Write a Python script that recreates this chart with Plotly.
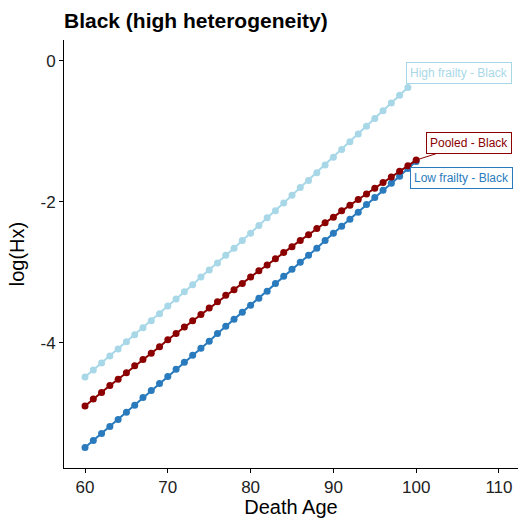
import plotly.graph_objects as go

# Death ages for each frailty group
ages_high = list(range(60, 100))
ages_pooled = list(range(60, 101))
ages_low = list(range(60, 101))

# log cumulative hazard, log(Hx)
log_hx_high = [
    -4.49, -4.39, -4.29, -4.19, -4.09, -3.99, -3.89, -3.79, -3.69, -3.59,
    -3.48, -3.38, -3.28, -3.18, -3.07, -2.97, -2.87, -2.76, -2.66, -2.55,
    -2.45, -2.34, -2.23, -2.13, -2.02, -1.91, -1.80, -1.70, -1.59, -1.48,
    -1.37, -1.26, -1.15, -1.04, -0.93, -0.82, -0.71, -0.60, -0.49, -0.38,
]
log_hx_pooled = [
    -4.90, -4.80, -4.71, -4.61, -4.52, -4.43, -4.33, -4.24, -4.15, -4.06,
    -3.96, -3.87, -3.78, -3.69, -3.60, -3.51, -3.42, -3.33, -3.25, -3.16,
    -3.07, -2.98, -2.90, -2.81, -2.72, -2.64, -2.55, -2.47, -2.38, -2.30,
    -2.22, -2.13, -2.05, -1.97, -1.89, -1.81, -1.73, -1.65, -1.57, -1.49,
    -1.41,
]
log_hx_low = [
    -5.49, -5.39, -5.29, -5.19, -5.09, -4.99, -4.89, -4.78, -4.68, -4.58,
    -4.48, -4.38, -4.28, -4.18, -4.08, -3.98, -3.87, -3.77, -3.67, -3.57,
    -3.47, -3.37, -3.27, -3.16, -3.06, -2.96, -2.86, -2.76, -2.66, -2.55,
    -2.45, -2.35, -2.25, -2.15, -2.04, -1.94, -1.84, -1.74, -1.64, -1.53,
    -1.43,
]

x_ticks = [60, 70, 80, 90, 100, 110]
y_ticks = [0, -2, -4]
y_tick_labels = ["0", "-2", "-4"]

COL_HIGH = "#a8d8e8"
COL_POOLED = "#8b0000"
COL_LOW = "#2a7bbd"

FONT = "Liberation Sans, Arial, Helvetica, sans-serif"

fig = go.Figure()

series = [
    ("Low frailty - Black", ages_low, log_hx_low, COL_LOW),
    ("High frailty - Black", ages_high, log_hx_high, COL_HIGH),
    ("Pooled - Black", ages_pooled, log_hx_pooled, COL_POOLED),
]
for name, xs, ys, col in series:
    fig.add_trace(go.Scatter(
        x=xs, y=ys, mode="lines+markers", name=name,
        line=dict(color=col, width=2),
        marker=dict(color=col, size=7),
        showlegend=False,
    ))


def label_font(col):
    return dict(family=FONT, size=12, color=col)


# End-of-line labels
common = dict(bgcolor="white", borderwidth=1, borderpad=3, xref="x", yref="y")
fig.add_annotation(
    x=ages_high[-1], y=log_hx_high[-1], text="High frailty - Black",
    showarrow=False, xanchor="center", yanchor="middle", xshift=51, yshift=14,
    bordercolor=COL_HIGH, font=label_font(COL_HIGH), **common,
)
fig.add_annotation(
    x=ages_pooled[-1], y=log_hx_pooled[-1], text="Pooled - Black",
    showarrow=True, arrowhead=0, arrowwidth=1, arrowcolor=COL_POOLED, ax=53, ay=-17,
    bordercolor=COL_POOLED, font=label_font(COL_POOLED), **common,
)
fig.add_annotation(
    x=ages_low[-1], y=log_hx_low[-1], text="Low frailty - Black",
    showarrow=False, xanchor="center", yanchor="middle", xshift=45, yshift=-17,
    bordercolor=COL_LOW, font=label_font(COL_LOW), **common,
)

axis_common = dict(
    showgrid=False, zeroline=False, showline=True, linecolor="black", linewidth=1,
    ticks="outside", ticklen=4, tickcolor="black", tickwidth=1,
    tickfont=dict(family=FONT, size=17, color="#222222"),
)

fig.update_layout(
    width=518, height=518,
    margin=dict(l=64, r=0, t=40, b=50),
    paper_bgcolor="white", plot_bgcolor="white",
    title=dict(
        text="<b>Black (high heterogeneity)</b>",
        font=dict(family=FONT, size=21, color="black"),
        x=64 / 518, xanchor="left", xref="container",
        y=1 - 21 / 518, yanchor="middle", yref="container",
    ),
    xaxis=dict(
        range=[57.46, 112.3], tickvals=x_ticks,
        title=dict(text="Death Age", font=dict(family=FONT, size=20, color="black"), standoff=4),
        **axis_common,
    ),
    yaxis=dict(
        range=[-5.78, 0.294], tickvals=y_ticks, ticktext=y_tick_labels,
        title=dict(text="log(Hx)", font=dict(family=FONT, size=20, color="black"), standoff=10),
        **axis_common,
    ),
)

fig.write_html("out.html")
